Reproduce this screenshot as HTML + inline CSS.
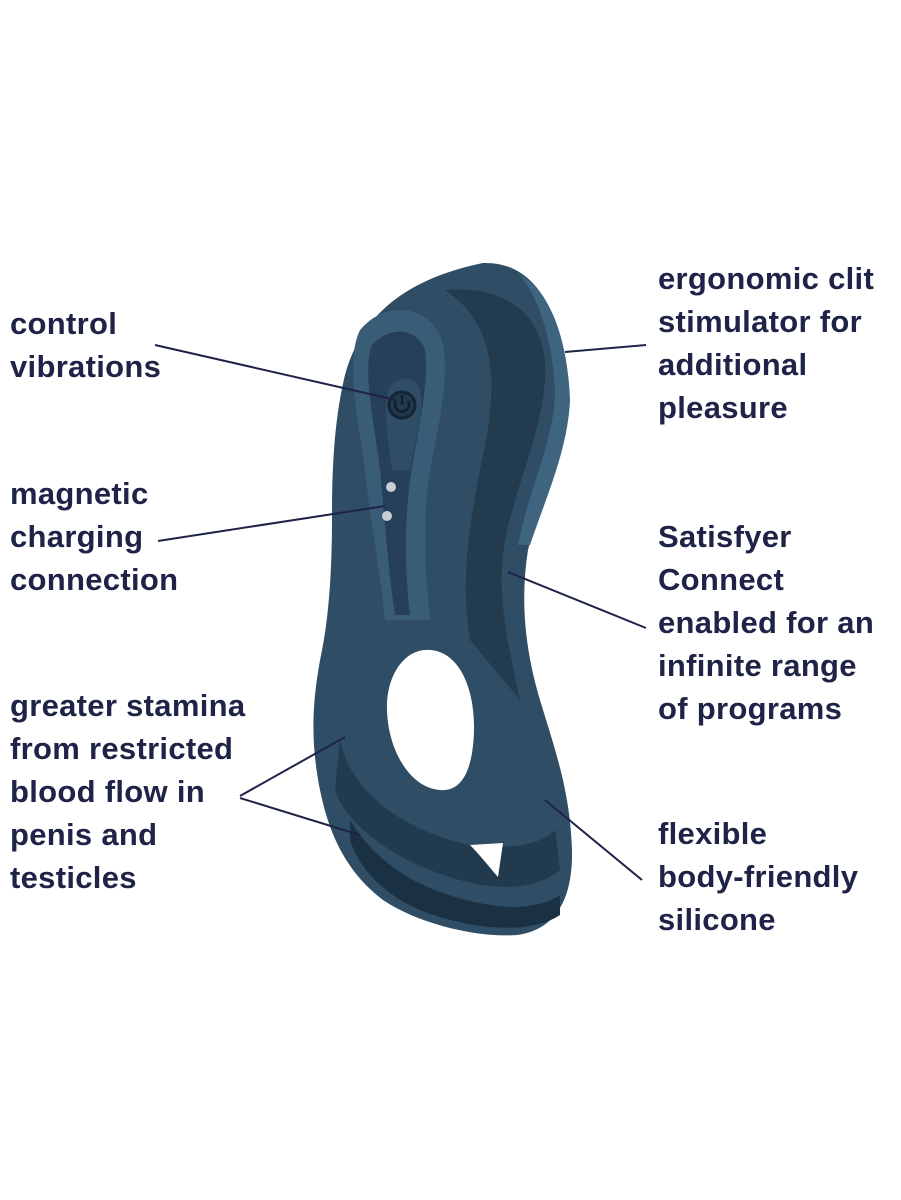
<!DOCTYPE html>
<html><head><meta charset="utf-8"><style>
html,body{margin:0;padding:0;background:#fff;}
#w{position:relative;width:901px;height:1200px;overflow:hidden;background:#fff;}
.t{position:absolute;font-family:"Liberation Sans",sans-serif;font-weight:bold;font-size:31px;line-height:43px;color:#1e2347;letter-spacing:0.3px;white-space:nowrap;}
svg{position:absolute;left:0;top:0;}
</style></head><body><div id="w">
<svg width="901" height="1200" viewBox="0 0 901 1200">
<path d="M483,263 C515,262 535,280 548,305 C562,330 570,370 568,410 C565,450 540,500 528,550 C520,600 525,650 540,700 C555,750 570,790 572,850 C573,900 555,930 517,935 C480,938 420,925 383,900 C350,875 330,840 320,790 C310,740 312,700 322,650 C330,610 332,560 332,517 C332,470 334,420 345,375 C360,320 400,280 483,263 Z" fill="#2f4d64"/>
<path d="M520,275 C550,290 568,340 570,400 C568,450 545,500 530,545 L518,545 C528,490 555,440 555,390 C552,340 540,300 520,275 Z" fill="#3f6480"/>
<path d="M445,290 C500,285 540,310 545,360 C548,420 520,470 505,540 C495,600 510,650 520,700 L470,640 C460,580 470,520 480,470 C495,400 505,330 445,290 Z" fill="#223b4f"/>
<path d="M360,330 C385,300 425,305 440,335 C452,365 440,420 430,470 C422,520 425,570 430,620 L385,620 C380,570 370,520 365,470 C358,420 345,360 360,330 Z" fill="#3a5d77"/>
<path d="M372,345 C390,325 418,328 425,350 C430,380 418,430 410,480 C404,530 405,570 410,615 L395,615 C388,570 385,520 380,470 C374,420 362,370 372,345 Z" fill="#26405a"/>
<path d="M388,390 C395,375 415,375 420,390 C425,410 415,440 410,470 L392,470 C388,440 383,410 388,390 Z" fill="#2f4d64"/>
<path d="M340,740 C350,790 400,830 470,845 C510,850 540,845 555,830 L560,870 C530,895 480,890 430,870 C380,850 345,820 335,790 Z" fill="#213a4d"/>
<path d="M350,820 C380,870 430,895 490,905 C520,910 545,905 560,895 L560,915 C530,935 470,930 420,910 C385,895 360,870 350,840 Z" fill="#1a3144"/>
<path d="M430,650 C460,652 475,690 474,730 C473,770 462,792 440,790 C410,788 388,750 387,710 C386,675 405,648 430,650 Z" fill="#fff"/>
<path d="M470,845 L503,843 L498,877 C490,868 480,855 470,845 Z" fill="#fff"/>
<circle cx="402" cy="405" r="13" fill="#223a4d" stroke="#132434" stroke-width="3"/>
<path d="M396,401 A7,7 0 1 0 408,401" fill="none" stroke="#0f1f2d" stroke-width="2.5"/>
<line x1="402" y1="395" x2="402" y2="405" stroke="#0f1f2d" stroke-width="2.5"/>
<circle cx="391" cy="487" r="5" fill="#c9ced3"/>
<circle cx="387" cy="516" r="5" fill="#c9ced3"/>
<g stroke="#1e2347" stroke-width="2" fill="none">
<line x1="155" y1="345" x2="396" y2="400"/>
<line x1="158" y1="541" x2="385" y2="506"/>
<line x1="240" y1="796" x2="345" y2="737"/>
<line x1="240" y1="798" x2="360" y2="835"/>
<line x1="565" y1="352" x2="646" y2="345"/>
<line x1="508" y1="572" x2="646" y2="628"/>
<line x1="545" y1="800" x2="642" y2="880"/>
</g>
</svg>
<div class="t" style="left:10px;top:302px">control<br>vibrations</div>
<div class="t" style="left:10px;top:472px">magnetic<br>charging<br>connection</div>
<div class="t" style="left:10px;top:684px">greater stamina<br>from restricted<br>blood flow in<br>penis and<br>testicles</div>
<div class="t" style="left:658px;top:257px">ergonomic clit<br>stimulator for<br>additional<br>pleasure</div>
<div class="t" style="left:658px;top:515px">Satisfyer<br>Connect<br>enabled for an<br>infinite range<br>of programs</div>
<div class="t" style="left:658px;top:812px">flexible<br>body-friendly<br>silicone</div>
</div></body></html>
